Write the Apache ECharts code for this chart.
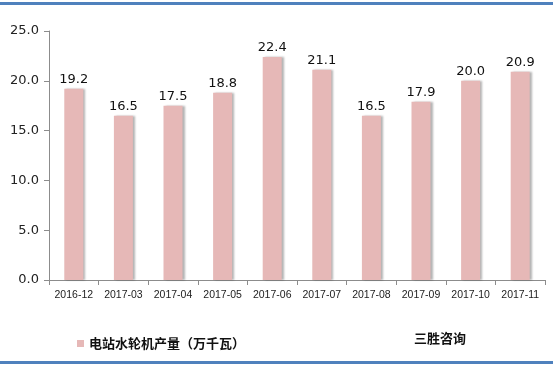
<!DOCTYPE html>
<html><head><meta charset="utf-8">
<script src="https://cdn.jsdelivr.net/npm/echarts@6/dist/echarts.min.js"></script>
<style>html,body{margin:0;padding:0;background:#fff}#c{width:553px;height:366px}</style>
</head><body><div id="c"></div>
<script>
const categories = ['2016-12','2017-03','2017-04','2017-05','2017-06','2017-07','2017-08','2017-09','2017-10','2017-11'];
const values = [19.2,16.5,17.5,18.8,22.4,21.1,16.5,17.9,20.0,20.9];
const yTicks = {min:0, max:25, interval:5};
const seriesName = '电站水轮机产量（万千瓦）';
const sourceText = '三胜咨询';

const chart = echarts.init(document.getElementById('c'));
const font = "'Microsoft YaHei','Noto Sans CJK SC',sans-serif";
chart.setOption({
  animation:false,
  grid:{left:49,right:8,top:31,bottom:86},
  xAxis:{type:'category',data:categories,
    axisLine:{lineStyle:{color:'#8c8c8c'}},
    axisTick:{show:true,length:5,interval:0,lineStyle:{color:'#8c8c8c'}},
    axisLabel:{interval:0,color:'#222',fontSize:10.5,fontFamily:'Liberation Sans, Arial, sans-serif',margin:10}},
  yAxis:{type:'value',min:yTicks.min,max:yTicks.max,interval:yTicks.interval,
    axisLine:{show:true,lineStyle:{color:'#8c8c8c'}},
    axisTick:{show:true,length:5,inside:false,lineStyle:{color:'#8c8c8c'}},
    splitLine:{show:false},
    axisLabel:{color:'#222',fontSize:13,fontFamily:'DejaVu Sans, sans-serif',margin:10,formatter:v=>v.toFixed(1)}},
  legend:{show:true,left:72,top:332,itemWidth:7,itemHeight:7,icon:'rect',itemGap:4,
    textStyle:{fontSize:13,color:'#111',fontFamily:font,fontWeight:'bold'},
    data:[seriesName]},
  graphic:[
    {type:'rect',shape:{x:0,y:2,width:553,height:3},style:{fill:'#4f81bd'}},
    {type:'rect',shape:{x:0,y:361,width:553,height:3},style:{fill:'#4f81bd'}},
    {type:'text',left:414,top:332,style:{text:sourceText,fontSize:13,fontWeight:'bold',fill:'#111',fontFamily:font}}
  ],
  series:[{type:'bar',name:seriesName,data:values,barWidth:19,
    itemStyle:{color:'#e6b8b7',shadowColor:'rgba(0,0,0,0.3)',shadowOffsetX:2,shadowBlur:2},
    label:{show:true,position:'top',distance:3,color:'#111',fontSize:13,fontFamily:'DejaVu Sans, sans-serif',formatter:p=>p.value.toFixed(1)}}]
});
</script></body></html>
